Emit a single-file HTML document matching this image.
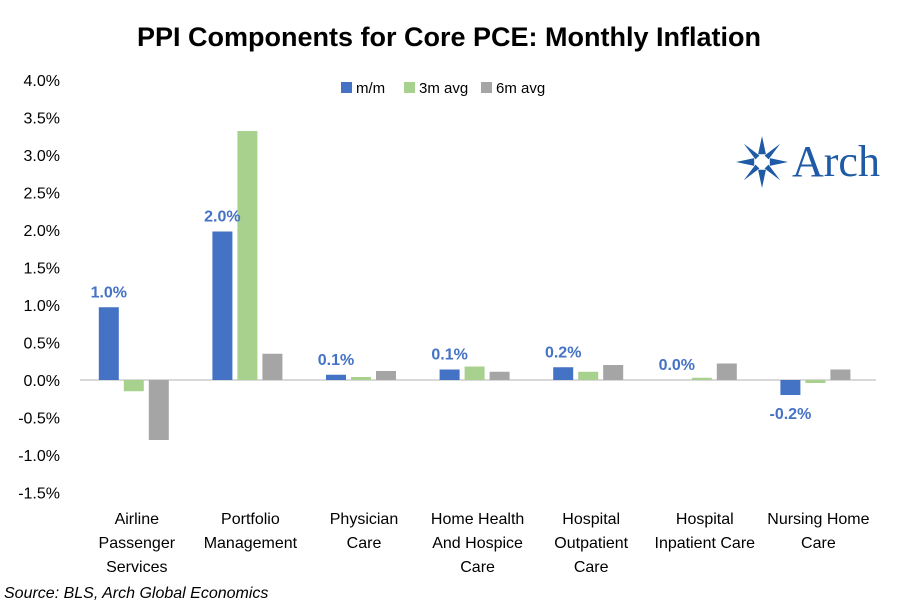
<!DOCTYPE html>
<html><head><meta charset="utf-8"><style>
body{margin:0;background:#fff;font-family:"Liberation Sans",sans-serif;}
svg text{font-family:"Liberation Sans",sans-serif;}
</style></head><body>
<svg id="c" width="898" height="605">
<text x="449" y="46" text-anchor="middle" font-size="27" font-weight="bold" fill="#000">PPI Components for Core PCE: Monthly Inflation</text>
<g>
<rect x="341" y="82" width="11" height="11" fill="#4472c4"/>
<text x="356" y="93" font-size="15">m/m</text>
<rect x="404" y="82" width="11" height="11" fill="#a9d18e"/>
<text x="419" y="93" font-size="15">3m avg</text>
<rect x="481" y="82" width="11" height="11" fill="#a5a5a5"/>
<text x="496" y="93" font-size="15">6m avg</text>
</g>
<g>
<g transform="translate(762 162) scale(1.3)" fill="#1f5aa6">
<polygon points="0,-20 3,-6 -3,-6"/><polygon points="0,20 3,6 -3,6"/><polygon points="-20,0 -6,3 -6,-3"/><polygon points="20,0 6,3 6,-3"/>
<polygon points="14,-14 5,-2 2,-5"/><polygon points="-14,14 -5,2 -2,5"/><polygon points="-14,-14 -2,-5 -5,-2"/><polygon points="14,14 2,5 5,2"/>
</g>
<text x="792" y="176" font-size="44" fill="#1f5aa6" style="font-family:'Liberation Serif',serif">Arch</text>
</g>
<g id="yaxis"></g>
<g id="bars"></g>
<g id="xaxis"></g>
<text x="4" y="598" font-size="16" font-style="italic">Source: BLS, Arch Global Economics</text>
</svg>
<script>
const categories=[["Airline","Passenger","Services"],["Portfolio","Management"],["Physician","Care"],["Home Health","And Hospice","Care"],["Hospital","Outpatient","Care"],["Hospital","Inpatient Care"],["Nursing Home","Care"]];
const mm=[0.97,1.98,0.07,0.14,0.17,0.0,-0.2];
const avg3=[-0.15,3.32,0.04,0.18,0.11,0.03,-0.04];
const avg6=[-0.8,0.35,0.12,0.11,0.2,0.22,0.14];
const mmLabels=["1.0%","2.0%","0.1%","0.1%","0.2%","0.0%","-0.2%"];
const yTicks=[4.0,3.5,3.0,2.5,2.0,1.5,1.0,0.5,0.0,-0.5,-1.0,-1.5];
const NS="http://www.w3.org/2000/svg";
const y=v=>380-v*75;
const x0=80,bw=113.6;
const cx=i=>x0+(i+0.5)*bw;
function mk(t,a,p,txt){const e=document.createElementNS(NS,t);for(const k in a)e.setAttribute(k,a[k]);if(txt!==undefined)e.textContent=txt;p.appendChild(e);return e;}
const ya=document.getElementById('yaxis'),bg=document.getElementById('bars'),xa=document.getElementById('xaxis');
yTicks.forEach(v=>{const t=mk('text',{x:60,y:y(v)+6,'text-anchor':'end','font-size':16},ya,v.toFixed(1)+'%');

});
const zl=mk('line',{x1:x0,x2:876,y1:y(0),y2:y(0),stroke:'#d9d9d9','stroke-width':2},bg);


const series=[[mm,'#4472c4',-38,'mm'],[avg3,'#a9d18e',-13,'3m'],[avg6,'#a5a5a5',12,'6m']];
categories.forEach((c,i)=>{
 series.forEach(([arr,col,off,nm])=>{const v=arr[i];const r=mk('rect',{x:cx(i)+off,y:Math.min(y(v),y(0)),width:20,height:Math.abs(y(v)-y(0)),fill:col},bg);
 
 });
 const v=mm[i];const ly=v>=0?y(v)-10:y(v)+24;
 const l=mk('text',{x:cx(i)-28,y:ly,'text-anchor':'middle','font-size':16,'font-weight':'bold',fill:'#4472c4'},bg,mmLabels[i]);
 
 
 c.forEach((s,j)=>{const t=mk('text',{x:cx(i),y:524+j*24,'text-anchor':'middle','font-size':16},xa,s);
 
 });
});
</script>
</body></html>
